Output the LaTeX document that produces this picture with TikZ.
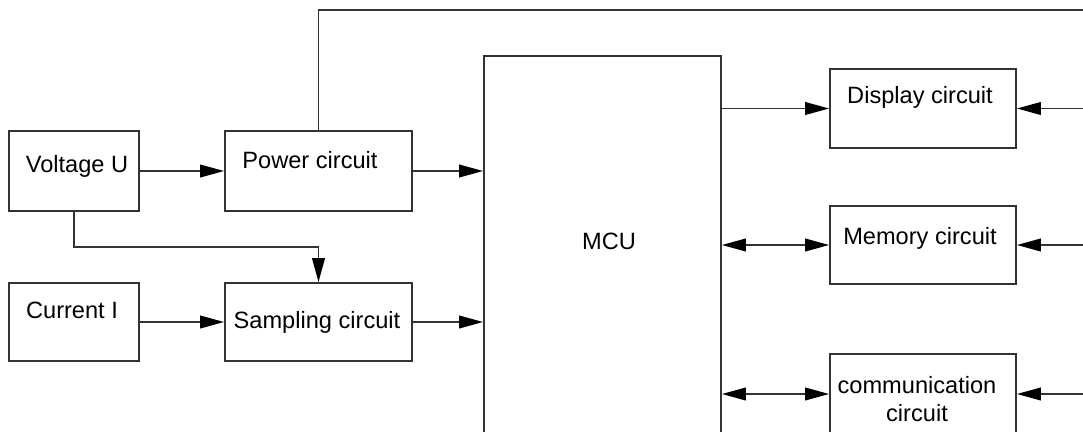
\documentclass[tikz,border=0pt]{standalone}
\usepackage{fontspec}
\setmainfont{Liberation Sans}
\usetikzlibrary{arrows.meta,positioning}
\tikzset{box/.style={draw=black!80, line width=1.35pt, inner sep=0pt},
lbl/.style={inner sep=0pt, align=center, font=\fontsize{17.7}{21}\selectfont},
wire/.style={draw=black!80, line width=1.35pt},
arr/.style={wire, -{Triangle[length=18pt,width=9.5pt,color=black]}},
darr/.style={wire, {Triangle[length=18pt,width=9.5pt,color=black]}-{Triangle[length=18pt,width=9.5pt,color=black]}}}

\begin{document}
\begin{tikzpicture}[x=0.75pt, y=-0.75pt]
        \useasboundingbox (0,0) rectangle (1083,432);
        \clip (0,0) rectangle (1083,432);

        \node[box, minimum width=97.5pt, minimum height=60pt] (vu) at (74,171) {};
        \node[box, minimum width=140.25pt, minimum height=60pt] (pc) at (318.5,171) {};
        \node[box, minimum width=97.5pt, minimum height=58.5pt] (ci) at (74,322) {};
        \node[box, minimum width=140.25pt, minimum height=58.5pt] (sc) at (318.5,322) {};
        \node[box, minimum width=177.75pt, minimum height=310.5pt] (mcu) at (602.5,263) {};
        \node[box, minimum width=139.5pt, minimum height=59.25pt] (dc) at (923,108.5) {};
        \node[box, minimum width=139.5pt, minimum height=58.5pt] (mc) at (923,245) {};
        \node[box, minimum width=139.5pt, minimum height=60pt] (cc) at (923,394) {};

        \node[lbl] (vu text) at (77,166) {Voltage U};
        \node[lbl] (pc text) at (310,160) {Power circuit};
        \node[lbl] (ci text) at (72,310) {Current I};
        \node[lbl] (sc text) at (317,322) {Sampling circuit};
        \node[lbl] (mcu text) at (609,241) {MCU};
        \node[lbl] (dc text) at (920,97) {Display circuit};
        \node[lbl] (mc text) at (920,238) {Memory circuit};
        \node[lbl] (cc text) at (917,399) {communication\\circuit};

        \coordinate (pwr end) at (1100,10);
        \coordinate (dc in) at (1100,108.5);
        \coordinate (mc in) at (1100,245);
        \coordinate (cc in) at (1100,394);

        \draw[arr] (vu) -- (pc);
        \draw[arr] (ci) -- (sc);
        \draw[arr] (pc.east) -- (pc.east -| mcu.west);
        \draw[arr] (sc.east) -- (sc.east -| mcu.west);
        \draw[arr] (vu.south) -- ++(0,35) -| (sc.north);
        \draw[wire] (pc.north) |- (pwr end);

        \draw[arr] (mcu.east |- dc.west) -- (dc.west);
        \draw[darr] (mcu.east |- mc.west) -- (mc.west);
        \draw[darr] (mcu.east |- cc.west) -- (cc.west);

        \draw[arr] (dc in) -- (dc.east);
        \draw[arr] (mc in) -- (mc.east);
        \draw[arr] (cc in) -- (cc.east);
\end{tikzpicture}
\end{document}
